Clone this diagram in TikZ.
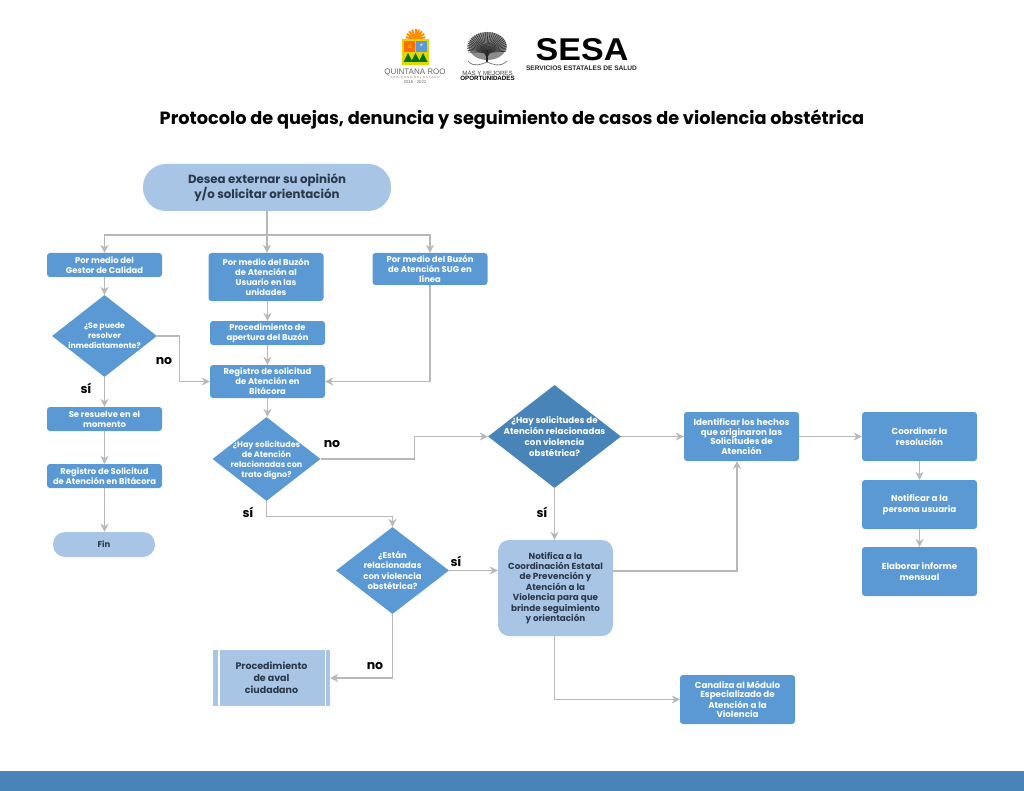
\documentclass[tikz,border=0pt]{standalone}
\usepackage{fontspec}
\setmainfont{Poppins}
\newfontfamily\logofont{Liberation Sans}
\usepackage{xcolor}
\usetikzlibrary{shapes.geometric,arrows.meta,positioning}

\definecolor{boxblue}{RGB}{91,153,212}
\definecolor{softblue}{RGB}{168,197,230}
\definecolor{deepblue}{RGB}{72,132,184}
\definecolor{darktext}{RGB}{43,56,74}
\definecolor{linegray}{RGB}{184,184,184}

\tikzset{
    basebox/.style={rectangle, rounded corners=3pt, align=center, inner sep=0pt,
        font=\fontsize{8.4}{10}\selectfont\bfseries},
    stepbox/.style={basebox, fill=boxblue, text=white},
    softbox/.style={basebox, fill=softblue, text=darktext},
    pill/.style={basebox, fill=softblue, text=darktext},
    decision/.style={diamond, aspect=1.3, inner sep=-6pt, align=center, text=white,
        font=\fontsize{8}{10.2}\selectfont\bfseries},
    widebox/.style={font=\fontsize{8.7}{9.4}\selectfont\bfseries},
    link/.style={draw=linegray, line width=1.3pt, -{Stealth[length=8pt,width=8pt,inset=2.5pt]}},
    answer/.style={font=\fontsize{12.5}{14}\selectfont\bfseries, text=black}
}

\begin{document}
\begin{tikzpicture}[x=1pt,y=-1pt]
    \useasboundingbox (0,0) rectangle (1024,791);

    % Footer band
    \fill[deepblue] (0,771) rectangle (1024,791);

    % Crest
    \foreach \ang in {-170,-150,...,-10}
        \draw[orange!90!yellow, line width=2pt] (415.5,39) -- ++(\ang:10);
    \fill[yellow!75!olive] (402,39) rectangle (429,65);
    \fill[orange!85!red] (404,41) rectangle (415,52);
    \fill[boxblue] (416,41) rectangle (427,52);
    \node[font=\logofont\fontsize{4.5}{5}\selectfont, text=yellow, inner sep=0pt] (crestnum) at (409.5,47) {11};
    \node[font=\logofont\fontsize{8}{8}\selectfont, text=white, inner sep=0pt] (creststar) at (421.5,46.5) {*};
    \foreach \xpos in {408,415.5,423}
        \fill[green!45!black] (\xpos-4.5,62) -- (\xpos,53) -- (\xpos+4.5,62) -- cycle;
    \node[font=\logofont\fontsize{8}{9}\selectfont, text=gray!80!black, inner sep=0pt] (crestname) at (415,72) {QUINTANA ROO};
    \node[font=\logofont\fontsize{3}{4}\selectfont, text=gray, inner sep=0pt] (cresttext) at (415,77.5) {G O B I E R N O \ D E L \ E S T A D O};
    \node[font=\logofont\fontsize{4.2}{5}\selectfont, text=gray!80!black, inner sep=0pt] (crestyear) at (415,82) {2016 - 2022};

    % Tree
    \fill[black!45] (487.5,46) ellipse (19pt and 14pt);
    \foreach \ang in {-200,-193,...,20}
        \draw[black!80, line width=0.6pt] (487,62) .. controls (487,52) .. ({487+20*cos(\ang)},{47+15*sin(\ang)});
    \draw[black!85, line width=1.2pt] (487,50) -- (487,62);
    \draw[gray, line width=0.8pt] (468,61) .. controls (474,68) and (482,64) .. (487,62) .. controls (492,64) and (500,68) .. (507,61);
    \node[font=\logofont\fontsize{6.1}{6}\selectfont, text=black!75, inner sep=0pt] (treename) at (487.5,72.5) {MÁS Y MEJORES};
    \node[font=\logofont\fontsize{6.2}{6}\selectfont\bfseries, text=black, inner sep=0pt] (treetext) at (487.5,78) {OPORTUNIDADES};

    % SESA
    \node[font=\logofont\fontsize{31.5}{32}\selectfont\bfseries, text=black, inner sep=0pt, text depth=0pt, text height=23pt] (sesaname) at (582,49.5) {\scalebox{1.08}[1]{SESA}};
    \node[font=\logofont\fontsize{6.6}{7}\selectfont\bfseries, text=black!85, inner sep=0pt] (sesatext) at (581.5,68) {SERVICIOS ESTATALES DE SALUD};

    % Title
    \node[font=\fontsize{17.7}{20}\selectfont\bfseries, text=black, inner sep=0pt] (title) at (512,119.5)
        {Protocolo de quejas, denuncia y seguimiento de casos de violencia obstétrica};

    % Start and first row
    \node[pill, rounded corners=23pt, minimum width=248pt, minimum height=47pt,
        font=\fontsize{11.8}{13.5}\selectfont\bfseries] (start) at (267,187.5) {Desea externar su opinión\\y/o solicitar orientación};
    \node[stepbox, minimum width=115pt, minimum height=24pt] (gestor) at (104.5,265) {Por medio del\\Gestor de Calidad};
    \node[stepbox, minimum width=115pt, minimum height=48pt] (buzon) at (266,277) {Por medio del Buzón\\de Atención al\\Usuario en las\\unidades};
    \node[stepbox, minimum width=115pt, minimum height=32pt] (sug) at (430,269) {Por medio del Buzón\\de Atención SUG en\\línea};

    % Left column
    \node[decision, fill=boxblue, minimum width=105pt, minimum height=82pt, font=\fontsize{7.8}{10}\selectfont\bfseries] (resolver) at (104.5,336) {¿Se puede\\resolver\\inmediatamente?};
    \node[stepbox, minimum width=115pt, minimum height=24pt] (momento) at (104.5,419) {Se resuelve en el\\momento};
    \node[stepbox, minimum width=115pt, minimum height=24pt] (registroleft) at (104.5,476) {Registro de Solicitud\\de Atención en Bitácora};
    \node[pill, rounded corners=12pt, minimum width=102pt, minimum height=25pt] (fin) at (104,544.5) {Fin};

    % Middle column
    \node[stepbox, minimum width=115pt, minimum height=24pt] (apertura) at (267.5,333) {Procedimiento de\\apertura del Buzón};
    \node[stepbox, minimum width=115pt, minimum height=33pt] (registro) at (267.5,381.5) {Registro de solicitud\\de Atención en\\Bitácora};
    \node[decision, fill=boxblue, minimum width=108pt, minimum height=84pt] (digno) at (266.5,459) {\\[-1pt]¿Hay solicitudes\\de Atención\\relacionadas con\\trato digno?};
    \node[decision, fill=boxblue, minimum width=113pt, minimum height=87pt, font=\fontsize{8.5}{10.4}\selectfont\bfseries] (estan) at (392.5,570.5) {¿Están\\relacionadas\\con violencia\\obstétrica?};

    % Aval box with its white bars
    \node[softbox, rounded corners=0pt, minimum width=117pt, minimum height=56pt,
        font=\fontsize{9.5}{12}\selectfont\bfseries] (aval) at (271.5,678) {Procedimiento\\de aval\\ciudadano};
    \draw[white, line width=1.4pt] ([xshift=6pt]aval.south west) -- ([xshift=6pt]aval.north west);
    \draw[white, line width=1.4pt] ([xshift=-5pt]aval.south east) -- ([xshift=-5pt]aval.north east);

    % Violence branch
    \node[decision, fill=deepblue, minimum width=133pt, minimum height=103pt, font=\fontsize{8.7}{10.8}\selectfont\bfseries] (violencia) at (554.5,436.5) {¿Hay solicitudes de\\Atención relacionadas\\con violencia\\obstétrica?};
    \node[softbox, rounded corners=11pt, minimum width=115pt, minimum height=96pt, font=\fontsize{8.8}{10.4}\selectfont\bfseries] (notifica) at (555.5,588)
        {Notifica a la\\Coordinación Estatal\\de Prevención y\\Atención a la\\Violencia para que\\brinde seguimiento\\y orientación};
    \node[stepbox, widebox, minimum width=115pt, minimum height=49pt] (identificar) at (741.5,436.5) {Identificar los hechos\\que originaron las\\Solicitudes de\\Atención};
    \node[stepbox, widebox, minimum width=115pt, minimum height=49pt] (canaliza) at (737.5,699.5) {Canaliza al Módulo\\Especializado de\\Atención a la\\Violencia};

    % Right column
    \node[stepbox, widebox, minimum width=115pt, minimum height=49pt, font=\fontsize{8.7}{11}\selectfont\bfseries] (coordinar) at (919.5,436.5) {Coordinar la\\resolución};
    \node[stepbox, widebox, minimum width=115pt, minimum height=49pt, font=\fontsize{8.7}{11}\selectfont\bfseries] (notificar) at (919.5,504.5) {Notificar a la\\persona usuaria};
    \node[stepbox, widebox, minimum width=115pt, minimum height=49pt, font=\fontsize{8.7}{11}\selectfont\bfseries] (elaborar) at (919.5,571.5) {Elaborar informe\\mensual};

    % Free ends of connectors
    \coordinate (split) at (267,235);
    \coordinate (identin) at (737,461);

    % Connectors
    \draw[link] (start.south) -- (buzon.north -| start.south);
    \draw[link] (split) -| (gestor.north);
    \draw[link] (split) -| (sug.north);
    \draw[link] (gestor) -- (resolver);
    \draw[link] (buzon.south -| apertura) -- (apertura);
    \draw[link] (apertura) -- (registro);
    \draw[link] (registro) -- (registro |- digno.north);
    \draw[link] (resolver.east) -- ++(22,0) |- (registro.west);
    \draw[link] (sug.south) |- (registro.east);
    \draw[link] (resolver) -- (momento);
    \draw[link] (momento) -- (registroleft);
    \draw[link] (registroleft) -- (registroleft |- fin.north);
    \draw[link] (digno.south) -- ++(0,15) -| (estan.north);
    \draw[link] (digno.east) -- ++(94,0) |- (violencia.west);
    \draw[link] (violencia) -- (violencia |- notifica.north);
    \draw[link] (violencia) -- (identificar);
    \draw[link] (identificar) -- (coordinar);
    \draw[link] (coordinar) -- (notificar);
    \draw[link] (notificar) -- (elaborar);
    \draw[link] (estan.east) -- (notifica.west |- estan.east);
    \draw[link] (estan.south) |- (aval.east);
    \draw[link] (notifica.east |- 0,571) -| (identin);
    \draw[link] (notifica.south -| violencia) |- (canaliza.west);

    % Answers
    \node[answer] (nouno) at (164,361) {no};
    \node[answer] (siuno) at (86,388) {sí};
    \node[answer] (nodos) at (332,444) {no};
    \node[answer] (sidos) at (248,512) {sí};
    \node[answer] (sitres) at (542,512) {sí};
    \node[answer] (sicuatro) at (456,561) {sí};
    \node[answer] (notres) at (375,666) {no};
\end{tikzpicture}
\end{document}
